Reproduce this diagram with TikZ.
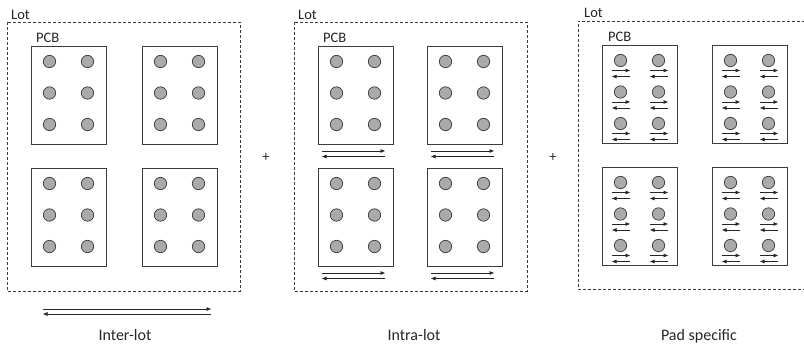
\documentclass[tikz,border=0pt]{standalone}
\usepackage{fontspec}
\setmainfont{Carlito}
\usetikzlibrary{arrows.meta}
\definecolor{padgray}{RGB}{170,170,170}
\definecolor{linegray}{RGB}{60,60,60}
\newcommand\pcbboard[2]{%
  \draw[pcbst] (#1,#2) rectangle ++(75,98);
  \foreach \dx in {18.5,56.5}{\foreach \dy in {15.5,47,78.5}{%
    \draw[padst] (#1+\dx,#2+\dy) circle (6.2pt);}}}
\newcommand\pcbpadspec[2]{%
  \pcbboard{#1}{#2}%
  \foreach \dx in {18.5,56.5}{\foreach \dy in {15.5,47,78.5}{%
    \draw[arr] (#1+\dx-8.5,#2+\dy+10) -- (#1+\dx+9.5,#2+\dy+10);
    \draw[arr] (#1+\dx+9.5,#2+\dy+16) -- (#1+\dx-8.5,#2+\dy+16);}}}
\begin{document}
\begin{tikzpicture}[x=1pt,y=-1pt,
  lotst/.style={draw=linegray, dash pattern=on 3pt off 2pt, line width=0.7pt},
  pcbst/.style={draw=linegray, line width=0.8pt},
  padst/.style={draw=linegray, fill=padgray, line width=0.7pt},
  arr/.style={draw=black!85, line width=0.8pt, -{Triangle[length=4.5pt,width=3.5pt]}},
  lbl/.style={font=\fontsize{14.5}{16}\selectfont, inner sep=0pt, text=black!85},
  captionlbl/.style={font=\fontsize{16}{18}\selectfont, inner sep=0pt, text=black!85}]
\useasboundingbox (0,0) rectangle (804,344);
% ---------- Panel 1: Inter-lot
\draw[lotst] (7,22) rectangle (240,291);
\node[lbl, anchor=base west] (lot1) at (11,20) {Lot};
\node[lbl, anchor=base west] (pcb1) at (36,43) {PCB};
\pcbboard{31}{46}\pcbboard{142}{46}\pcbboard{31}{168}\pcbboard{142}{168}
\coordinate (a1l) at (43,309); \coordinate (a1r) at (211,309);
\coordinate (b1l) at (43,314); \coordinate (b1r) at (211,314);
\draw[arr] (a1l) -- (a1r);
\draw[arr] (b1r) -- (b1l);
\node[captionlbl, anchor=base] (t1) at (125,341) {Inter-lot};
\node[lbl] (plus1) at (266,158) {+};
% ---------- Panel 2: Intra-lot
\draw[lotst] (294,22) rectangle (527,291);
\node[lbl, anchor=base west] (lot2) at (298,20) {Lot};
\node[lbl, anchor=base west] (pcb2) at (323,43) {PCB};
\pcbboard{318}{46}\pcbboard{427}{46}\pcbboard{318}{168}\pcbboard{427}{168}
\foreach \bx in {318,427}{\foreach \by in {46,168}{%
  \draw[arr] (\bx+4,\by+105) -- (\bx+67,\by+105);
  \draw[arr] (\bx+67,\by+110.5) -- (\bx+4,\by+110.5);}}
\node[captionlbl, anchor=base] (t2) at (414,341) {Intra-lot};
\node[lbl] (plus2) at (553,158) {+};
% ---------- Panel 3: Pad specific
\draw[lotst] (840,21) -- (578,21) -- (578,289) -- (840,289);
\node[lbl, anchor=base west] (lot3) at (584,18) {Lot};
\node[lbl, anchor=base west] (pcb3) at (608,42) {PCB};
\pcbpadspec{602}{45}\pcbpadspec{712}{45}\pcbpadspec{602}{167}\pcbpadspec{712}{167}
\node[captionlbl, anchor=base] (t3) at (699,341) {Pad specific};
\end{tikzpicture}
\end{document}
